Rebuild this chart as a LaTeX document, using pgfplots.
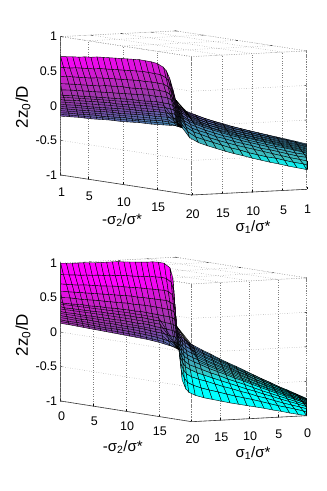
\documentclass[border=0pt]{standalone}
\usepackage{pgfplots}
\pgfplotsset{compat=1.18}
\usepackage{fontspec}
\setmainfont{Liberation Sans}
\pgfplotsset{
  colormap={cm}{rgb255(0cm)=(0,255,255); rgb255(1.5cm)=(0,255,255); rgb255(2.0cm)=(60,190,190); rgb255(3cm)=(60,150,180); rgb255(4.5cm)=(120,70,165); rgb255(5.5cm)=(155,55,170); rgb255(7cm)=(200,30,200); rgb255(8.5cm)=(255,0,255); rgb255(10cm)=(255,0,255)},
  my/.style={
    clip=false,
    colormap name=cm,
    point meta min=-1, point meta max=1,
    zmin=-1,zmax=1,
    ztick={-1,-0.5,0,0.5,1},
    grid=major,
    grid style={dotted,black!50,line width=0.5pt},
    axis line style={dotted,black!50,line width=0.5pt},
    tick style={black,line width=0.4pt},
    major tick length=2pt,
    tickpos=left,
    /pgf/number format/assume math mode=true,
    ticklabel style={font=\fontsize{12.5}{13}\selectfont},
    z tick label style={anchor=east},
  },
  sf/.style={surf,shader=faceted,faceted color=black,line width=0.4pt,mesh/cols=11,point meta=z},
  fl/.style={black,line width=0.4pt,no markers},
}
\begin{document}
\begin{tikzpicture}[x=1pt,y=1pt]
\path[use as bounding box] (0,0) rectangle (327,491);
\begin{axis}[my,at={(60.7pt,296pt)},anchor=south west,
  x={(6.895pt,-1.053pt)},y={(-6.053pt,-0.3pt)},z={(0pt,69.2pt)},
  xmin=1,xmax=20,ymin=1,ymax=20,
  xtick={1,5,10,15},ytick={1,5,10,15,20},
  x tick label style={anchor=center,yshift=-17.5pt,xshift=1pt},
  y tick label style={anchor=center,yshift=-19.5pt,xshift=1pt},
]
\addplot3[sf] coordinates {
(1,20,.71)(1,20,.56)(1,20,.43)(1,20,.32)(1,20,.24)(1,20,.16)(1,20,.09)(1,20,.02)(1,20,-.04)(1,20,-.10)(1,20,-.15)
(1,20,.71)(1,20,.55)(1,20,.42)(1,20,.32)(1,19.85,.23)(1,19.6,.15)(1,19.35,.08)(1,19.1,.01)(1,18.9,-.05)(1,18.7,-.11)(1,18.5,-.165)
(1,20,.71)(1,19.5,.55)(1,19,.42)(1,18.65,.31)(1,18.35,.22)(1,18.1,.14)(1,17.85,.07)(1,17.6,0)(1,17.4,-.07)(1,17.2,-.13)(1,17,-.18)
(1,19,.705)(1,18.5,.54)(1,18,.41)(1,17.65,.30)(1,17.35,.21)(1,17.1,.13)(1,16.85,.06)(1,16.6,-.015)(1,16.4,-.08)(1,16.2,-.14)(1,16,-.195)
(1,18,.70)(1,17.5,.54)(1,17,.40)(1,16.65,.29)(1,16.35,.20)(1,16.1,.12)(1,15.85,.05)(1,15.6,-.03)(1,15.4,-.09)(1,15.2,-.15)(1,15,-.21)
(1,17,.69)(1,16.5,.53)(1,16,.39)(1,15.65,.28)(1,15.35,.19)(1,15.1,.11)(1,14.85,.04)(1,14.6,-.04)(1,14.4,-.10)(1,14.2,-.16)(1,14,-.22)
(1,16,.69)(1,15.5,.52)(1,15,.38)(1,14.65,.27)(1,14.35,.18)(1,14.1,.10)(1,13.85,.03)(1,13.6,-.05)(1,13.4,-.11)(1,13.2,-.18)(1,13,-.23)
(1,15,.68)(1,14.5,.51)(1,14,.38)(1,13.65,.26)(1,13.35,.17)(1,13.1,.09)(1,12.85,.02)(1,12.6,-.06)(1,12.4,-.12)(1,12.2,-.19)(1,12,-.24)
(1,14,.68)(1,13.5,.51)(1,13,.37)(1,12.65,.26)(1,12.35,.16)(1,12.1,.08)(1,11.85,.01)(1,11.6,-.07)(1,11.4,-.13)(1,11.2,-.20)(1,11,-.255)
(1,13,.67)(1,12.5,.50)(1,12,.36)(1,11.65,.25)(1,11.35,.15)(1,11.1,.07)(1,10.85,-.01)(1,10.6,-.08)(1,10.4,-.15)(1,10.2,-.21)(1,10,-.27)
(1,12,.66)(1,11.5,.49)(1,11,.35)(1,10.65,.24)(1,10.35,.14)(1,10.1,.06)(1,9.85,-.02)(1,9.6,-.09)(1,9.4,-.16)(1,9.2,-.22)(1,9,-.28)
(1,11,.65)(1,10.5,.48)(1,10,.34)(1,9.65,.23)(1,9.35,.13)(1,9.1,.05)(1,8.85,-.03)(1,8.6,-.10)(1,8.4,-.17)(1,8.2,-.24)(1,8,-.29)
(1,10,.64)(1,9.5,.47)(1,9,.33)(1,8.65,.21)(1,8.35,.12)(1,8.1,.04)(1,7.85,-.04)(1,7.6,-.115)(1,7.4,-.18)(1,7.2,-.25)(1,7,-.30)
(1,9,.63)(1,8.5,.46)(1,8,.32)(1,7.65,.20)(1,7.35,.11)(1,7.1,.02)(1,6.85,-.05)(1,6.6,-.13)(1,6.4,-.19)(1,6.2,-.26)(1,6,-.315)
(1,8,.62)(1,7.5,.45)(1,7,.31)(1,6.65,.19)(1,6.35,.10)(1,6.1,.01)(1,5.85,-.06)(1,5.6,-.14)(1,5.4,-.20)(1,5.2,-.27)(1,5,-.33)
(1,7,.61)(1,6.5,.44)(1,6,.29)(1,5.65,.18)(1,5.35,.09)(1,5.1,0)(1,4.85,-.07)(1,4.6,-.15)(1,4.4,-.22)(1,4.2,-.28)(1,4,-.34)
(1,6,.59)(1,5.5,.42)(1,5,.28)(1,4.65,.17)(1,4.35,.07)(1,4.1,-.01)(1,3.85,-.09)(1,3.6,-.16)(1,3.4,-.23)(1,3.2,-.29)(1,3,-.35)
(1,5,.57)(1,4.5,.40)(1,4,.26)(1,3.65,.15)(1,3.35,.06)(1,3.1,-.03)(1,2.85,-.10)(1,2.6,-.18)(1,2.4,-.24)(1,2.2,-.31)(1,2,-.36)
(1,4,.54)(1,3.5,.38)(1,3,.24)(1,2.65,.13)(1,2.35,.04)(1,2.1,-.05)(1,1.85,-.12)(1,1.6,-.19)(1,1.4,-.26)(1,1.2,-.32)(1,1,-.37)
(1,3,.48)(1.05,2.64,.33)(1.1,2.34,.20)(1.14,2.1,.09)(1.17,1.9,.01)(1.19,1.72,-.07)(1.22,1.56,-.14)(1.24,1.4,-.20)(1.26,1.26,-.26)(1.28,1.12,-.32)(1.3,1,-.376)
(1,2.5,.42)(1.07,2.23,.28)(1.13,2,.16)(1.18,1.83,.06)(1.22,1.68,-.02)(1.26,1.54,-.09)(1.29,1.42,-.15)(1.32,1.3,-.22)(1.35,1.2,-.27)(1.38,1.09,-.33)(1.4,1,-.377)
(1,2,.32)(1.09,1.82,.19)(1.17,1.67,.09)(1.23,1.55,0)(1.28,1.45,-.06)(1.32,1.36,-.13)(1.36,1.28,-.18)(1.4,1.2,-.24)(1.44,1.13,-.29)(1.47,1.06,-.34)(1.5,1,-.378)
(1,1.5,.17)(1.12,1.41,.07)(1.21,1.33,-.01)(1.29,1.28,-.08)(1.36,1.22,-.13)(1.42,1.18,-.18)(1.47,1.14,-.23)(1.52,1.1,-.27)(1.57,1.06,-.31)(1.61,1.03,-.35)(1.65,1,-.38)
(1,1,0)(1.14,1,-.07)(1.26,1,-.13)(1.36,1,-.17)(1.44,1,-.21)(1.51,1,-.24)(1.58,1,-.27)(1.64,1,-.30)(1.7,1,-.33)(1.75,1,-.36)(1.8,1,-.38)
(1.5,1,-.21)(1.56,1,-.24)(1.62,1,-.27)(1.66,1,-.29)(1.69,1,-.30)(1.72,1,-.32)(1.75,1,-.33)(1.78,1,-.35)(1.8,1,-.36)(1.83,1,-.37)(1.85,1,-.38)
(1.9,1,-.385)(1.9,1,-.385)(1.9,1,-.385)(1.9,1,-.385)(1.9,1,-.385)(1.9,1,-.385)(1.9,1,-.385)(1.9,1,-.385)(1.9,1,-.385)(1.9,1,-.385)(1.9,1,-.385)
};
\addplot3[sf] coordinates {
(1,1,0)(1,1,0)(1,1,0)(1,1,0)(1,1,0)(1,1,0)(1,1,0)(1,1,0)(1,1,0)(1,1,0)(1,1,0)
(1.5,1,-.21)(1.43,1,-.18)(1.37,1,-.15)(1.32,1,-.12)(1.28,1,-.105)(1.24,1,-.09)(1.21,1,-.07)(1.18,1,-.06)(1.15,1,-.045)(1.12,1,-.03)(1.1,1,-.02)
(2,1,-.39)(1.86,1,-.33)(1.74,1,-.27)(1.64,1,-.23)(1.56,1,-.20)(1.49,1,-.17)(1.42,1,-.14)(1.36,1,-.11)(1.3,1,-.09)(1.25,1,-.06)(1.2,1,-.04)
(3,1,-.51)(2.75,1,-.43)(2.54,1,-.37)(2.37,1,-.32)(2.23,1,-.28)(2.1,1,-.24)(1.99,1,-.21)(1.88,1,-.17)(1.78,1,-.14)(1.68,1,-.115)(1.6,1,-.09)
(4.3,1,-.565)(3.92,1,-.49)(3.61,1,-.42)(3.36,1,-.37)(3.15,1,-.32)(2.96,1,-.28)(2.79,1,-.25)(2.62,1,-.21)(2.47,1,-.18)(2.33,1,-.15)(2.2,1,-.125)
(5.6,1,-.59)(5.1,1,-.51)(4.6,1,-.44)(4.25,1,-.39)(3.95,1,-.34)(3.7,1,-.30)(3.45,1,-.27)(3.2,1,-.23)(3,1,-.20)(2.8,1,-.17)(2.6,1,-.14)
(6.9,1,-.61)(6.4,1,-.53)(5.9,1,-.47)(5.55,1,-.41)(5.25,1,-.37)(5,1,-.33)(4.75,1,-.29)(4.5,1,-.26)(4.3,1,-.23)(4.1,1,-.20)(3.9,1,-.17)
(8.2,1,-.63)(7.7,1,-.55)(7.2,1,-.49)(6.85,1,-.44)(6.55,1,-.39)(6.3,1,-.35)(6.05,1,-.32)(5.8,1,-.29)(5.6,1,-.26)(5.4,1,-.23)(5.2,1,-.20)
(9.5,1,-.645)(9,1,-.57)(8.5,1,-.505)(8.15,1,-.45)(7.85,1,-.41)(7.6,1,-.37)(7.35,1,-.34)(7.1,1,-.305)(6.9,1,-.275)(6.7,1,-.245)(6.5,1,-.22)
(10.8,1,-.655)(10.3,1,-.58)(9.8,1,-.52)(9.45,1,-.47)(9.15,1,-.42)(8.9,1,-.39)(8.65,1,-.35)(8.4,1,-.32)(8.2,1,-.29)(8,1,-.26)(7.8,1,-.235)
(12.1,1,-.67)(11.6,1,-.60)(11.1,1,-.53)(10.75,1,-.48)(10.45,1,-.44)(10.2,1,-.40)(9.95,1,-.37)(9.7,1,-.34)(9.5,1,-.31)(9.3,1,-.28)(9.1,1,-.255)
(13.4,1,-.68)(12.9,1,-.61)(12.4,1,-.54)(12.05,1,-.49)(11.75,1,-.45)(11.5,1,-.42)(11.25,1,-.38)(11,1,-.35)(10.8,1,-.32)(10.6,1,-.29)(10.4,1,-.267)
(14.7,1,-.69)(14.2,1,-.62)(13.7,1,-.55)(13.35,1,-.51)(13.05,1,-.46)(12.8,1,-.43)(12.55,1,-.39)(12.3,1,-.36)(12.1,1,-.33)(11.9,1,-.305)(11.7,1,-.28)
(16,1,-.695)(15.5,1,-.62)(15,1,-.56)(14.65,1,-.51)(14.35,1,-.47)(14.1,1,-.44)(13.85,1,-.40)(13.6,1,-.37)(13.4,1,-.34)(13.2,1,-.315)(13,1,-.29)
(17.3,1,-.705)(16.8,1,-.63)(16.3,1,-.57)(15.95,1,-.52)(15.65,1,-.48)(15.4,1,-.45)(15.15,1,-.41)(14.9,1,-.38)(14.7,1,-.35)(14.5,1,-.325)(14.3,1,-.30)
(18.6,1,-.71)(18.1,1,-.64)(17.6,1,-.58)(17.25,1,-.53)(16.95,1,-.49)(16.7,1,-.45)(16.45,1,-.42)(16.2,1,-.39)(16,1,-.36)(15.8,1,-.33)(15.6,1,-.31)
(20,1,-.715)(19.5,1,-.64)(19,1,-.585)(18.65,1,-.54)(18.35,1,-.50)(18.1,1,-.46)(17.85,1,-.43)(17.6,1,-.40)(17.4,1,-.37)(17.2,1,-.34)(17,1,-.32)
(20,1,-.715)(20,1,-.65)(20,1,-.59)(19.95,1,-.54)(19.65,1,-.50)(19.4,1,-.47)(19.15,1,-.44)(18.9,1,-.41)(18.7,1,-.38)(18.5,1,-.35)(18.3,1,-.33)
(20,1,-.715)(20,1,-.65)(20,1,-.59)(20,1,-.55)(20,1,-.51)(20,1,-.48)(20,1,-.45)(20,1,-.42)(20,1,-.39)(20,1,-.37)(20,1,-.345)
};
\addplot3[fl] coordinates {(1,20,.125)(1,12.98,.055)(1,7.98,0)(1,2.98,-.065)(1.9,1,-.385)};
\addplot3[fl] coordinates {(1,20,.055)(1,12.72,-.02)(1,7.72,-.08)(1,2.72,-.14)(1.9,1,-.385)};
\addplot3[fl] coordinates {(1,20,-.01)(1,12.5,-.09)(1,7.5,-.15)(1,2.5,-.21)(1.9,1,-.385)};
\addplot3[fl] coordinates {(1,20,-.07)(1,12.3,-.155)(1,7.3,-.215)(1,2.3,-.275)(1.9,1,-.385)};
\addplot3[fl] coordinates {(1,20,-.125)(1,12.1,-.215)(1,7.1,-.275)(1,2.1,-.335)(1.9,1,-.385)};
\addplot3[fl] coordinates {(20,1,-.465)(17.98,1,-.445)(8.78,1,-.37)(3.58,1,-.285)(1,1,0)};
\addplot3[fl] coordinates {(20,1,-.435)(17.72,1,-.415)(8.52,1,-.335)(3.32,1,-.25)(1,1,0)};
\addplot3[fl] coordinates {(20,1,-.405)(17.5,1,-.385)(8.3,1,-.305)(3.1,1,-.215)(1,1,0)};
\addplot3[fl] coordinates {(20,1,-.38)(17.3,1,-.355)(8.1,1,-.275)(2.9,1,-.185)(1,1,0)};
\addplot3[fl] coordinates {(20,1,-.357)(17.1,1,-.33)(7.9,1,-.247)(2.7,1,-.155)(1,1,0)};
\addplot3[black!75,line width=0.6pt] coordinates {(1,20,1) (1,20,-1) (20,20,-1) (20,1,-1)};
\end{axis}
\begin{axis}[my,at={(60.7pt,69.3pt)},anchor=south west,
  x={(6.55pt,-1.035pt)},y={(-5.75pt,-0.3pt)},z={(0pt,68.9pt)},
  xmin=0,xmax=20,ymin=0,ymax=20,
  xtick={0,5,10,15},ytick={0,5,10,15,20},
  x tick label style={anchor=center,yshift=-15pt,xshift=1pt},
  y tick label style={anchor=center,yshift=-17.5pt,xshift=1pt},
]
\addplot3[sf] coordinates {
(0,20,1)(0,20,.84)(0,20,.71)(0,20,.61)(0,20,.52)(0,20,.44)(0,20,.37)(0,20,.30)(0,20,.24)(0,20,.18)(0,20,.127)
(0,20,1)(0,20,.84)(0,20,.70)(0,20,.59)(0,19.85,.50)(0,19.6,.42)(0,19.35,.35)(0,19.1,.28)(0,18.9,.22)(0,18.7,.15)(0,18.5,.10)
(0,20,1)(0,19.5,.83)(0,19,.69)(0,18.65,.58)(0,18.35,.49)(0,18.1,.40)(0,17.85,.33)(0,17.6,.26)(0,17.4,.19)(0,17.2,.13)(0,17,.07)
(0,19,.995)(0,18.5,.825)(0,18,.68)(0,17.65,.57)(0,17.35,.475)(0,17.1,.39)(0,16.85,.315)(0,16.6,.24)(0,16.4,.17)(0,16.2,.11)(0,16,.05)
(0,18,.99)(0,17.5,.82)(0,17,.67)(0,16.65,.56)(0,16.35,.46)(0,16.1,.38)(0,15.85,.30)(0,15.6,.22)(0,15.4,.16)(0,15.2,.09)(0,15,.03)
(0,17,.99)(0,16.5,.81)(0,16,.67)(0,15.65,.55)(0,15.35,.45)(0,15.1,.36)(0,14.85,.285)(0,14.6,.21)(0,14.4,.14)(0,14.2,.07)(0,14,.01)
(0,16,.99)(0,15.5,.81)(0,15,.66)(0,14.65,.54)(0,14.35,.44)(0,14.1,.35)(0,13.85,.27)(0,13.6,.19)(0,13.4,.12)(0,13.2,.05)(0,13,-.01)
(0,15,.985)(0,14.5,.80)(0,14,.65)(0,13.65,.53)(0,13.35,.43)(0,13.1,.34)(0,12.85,.26)(0,12.6,.175)(0,12.4,.10)(0,12.2,.03)(0,12,-.03)
(0,14,.98)(0,13.5,.80)(0,13,.64)(0,12.65,.52)(0,12.35,.415)(0,12.1,.32)(0,11.85,.24)(0,11.6,.16)(0,11.4,.09)(0,11.2,.015)(0,11,-.05)
(0,13,.98)(0,12.5,.79)(0,12,.635)(0,11.65,.51)(0,11.35,.405)(0,11.1,.31)(0,10.85,.23)(0,10.6,.14)(0,10.4,.07)(0,10.2,0)(0,10,-.07)
(0,12,.98)(0,11.5,.79)(0,11,.63)(0,10.65,.50)(0,10.35,.39)(0,10.1,.30)(0,9.85,.21)(0,9.6,.13)(0,9.4,.05)(0,9.2,-.02)(0,9,-.09)
(0,11,.98)(0,10.5,.78)(0,10,.62)(0,9.65,.49)(0,9.35,.38)(0,9.1,.28)(0,8.85,.20)(0,8.6,.11)(0,8.4,.03)(0,8.2,-.04)(0,8,-.11)
(0,10,.98)(0,9.5,.78)(0,9,.61)(0,8.65,.48)(0,8.35,.37)(0,8.1,.27)(0,7.85,.18)(0,7.6,.09)(0,7.4,.015)(0,7.2,-.06)(0,7,-.13)
(0,9,.97)(0,8.5,.77)(0,8,.60)(0,7.65,.47)(0,7.35,.35)(0,7.1,.25)(0,6.85,.16)(0,6.6,.07)(0,6.4,0)(0,6.2,-.08)(0,6,-.15)
(0,8,.965)(0,7.5,.76)(0,7,.59)(0,6.65,.45)(0,6.35,.34)(0,6.1,.24)(0,5.85,.15)(0,5.6,.06)(0,5.4,-.02)(0,5.2,-.10)(0,5,-.17)
(0,7,.96)(0,6.5,.75)(0,6,.58)(0,5.65,.44)(0,5.35,.325)(0,5.1,.22)(0,4.85,.13)(0,4.6,.04)(0,4.4,-.045)(0,4.2,-.125)(0,4,-.195)
(0,6,.955)(0,5.5,.74)(0,5,.565)(0,4.65,.425)(0,4.35,.31)(0,4.1,.20)(0,3.85,.105)(0,3.6,.01)(0,3.4,-.07)(0,3.2,-.15)(0,3,-.22)
(0,5,.95)(0,4.5,.74)(0,4,.555)(0,3.65,.41)(0,3.35,.29)(0,3.1,.18)(0,2.85,.09)(0,2.6,-.01)(0,2.4,-.09)(0,2.2,-.18)(0,2,-.25)
(0,4,.95)(0,3.5,.73)(0,3,.54)(0,2.65,.395)(0,2.35,.27)(0,2.1,.16)(0,1.85,.06)(0,1.6,-.035)(0,1.4,-.12)(0,1.2,-.21)(0,1,-.28)
(0,3,.94)(0,2.5,.72)(0,2,.53)(0,1.65,.38)(0,1.35,.25)(0,1.1,.14)(0,.85,.04)(0,.6,-.06)(0,.4,-.15)(0,.2,-.235)(0,0,-.31)
(0,2,.92)(.03,1.64,.70)(.05,1.34,.51)(.07,1.1,.36)(.08,.9,.24)(.1,.72,.13)(.11,.56,.03)(.12,.4,-.07)(.13,.26,-.15)(.14,.12,-.24)(.15,0,-.315)
(0,1,.85)(.05,.82,.64)(.09,.67,.46)(.13,.55,.32)(.15,.45,.21)(.18,.36,.10)(.2,.28,.01)(.22,.2,-.09)(.24,.13,-.17)(.26,.06,-.25)(.28,0,-.32)
(0,.5,.70)(.07,.41,.52)(.13,.34,.36)(.17,.28,.24)(.21,.23,.14)(.24,.18,.04)(.27,.14,-.04)(.3,.1,-.12)(.33,.07,-.19)(.36,.03,-.26)(.38,0,-.325)
(0,.25,.41)(.08,.21,.28)(.15,.17,.17)(.2,.14,.08)(.24,.11,0)(.28,.09,-.06)(.32,.07,-.12)(.35,.05,-.18)(.38,.03,-.23)(.41,.02,-.29)(.44,0,-.33)
(0,0,.064)(.09,0,-.01)(.17,0,-.07)(.23,0,-.12)(.28,0,-.16)(.32,0,-.19)(.36,0,-.22)(.4,0,-.26)(.44,0,-.28)(.47,0,-.31)(.5,0,-.335)
(.55,0,-.34)(.55,0,-.34)(.55,0,-.34)(.55,0,-.34)(.55,0,-.34)(.55,0,-.34)(.55,0,-.34)(.55,0,-.34)(.55,0,-.34)(.55,0,-.34)(.55,0,-.34)
};
\addplot3[sf] coordinates {
(0,0,.016)(0,0,.016)(0,0,.016)(0,0,.016)(0,0,.016)(0,0,.016)(0,0,.016)(0,0,.016)(0,0,.016)(0,0,.016)(0,0,.016)
(.5,0,-.34)(.43,0,-.28)(.37,0,-.23)(.32,0,-.19)(.28,0,-.15)(.24,0,-.12)(.21,0,-.10)(.18,0,-.07)(.15,0,-.04)(.12,0,-.02)(.1,0,0)
(1,0,-.77)(.87,0,-.64)(.77,0,-.53)(.69,0,-.44)(.62,0,-.37)(.55,0,-.30)(.5,0,-.24)(.44,0,-.19)(.39,0,-.135)(.34,0,-.08)(.3,0,-.04)
(1.5,0,-.88)(1.34,0,-.74)(1.2,0,-.62)(1.1,0,-.52)(1,0,-.45)(.92,0,-.37)(.85,0,-.31)(.78,0,-.25)(.72,0,-.19)(.65,0,-.14)(.6,0,-.09)
(2,0,-.93)(1.8,0,-.79)(1.64,0,-.67)(1.5,0,-.57)(1.4,0,-.49)(1.3,0,-.42)(1.2,0,-.35)(1.12,0,-.29)(1.04,0,-.23)(.97,0,-.18)(.9,0,-.13)
(3,0,-.96)(2.7,0,-.82)(2.44,0,-.70)(2.24,0,-.60)(2.07,0,-.53)(1.91,0,-.45)(1.78,0,-.39)(1.64,0,-.33)(1.52,0,-.27)(1.4,0,-.22)(1.3,0,-.17)
(4.3,0,-.975)(3.89,0,-.84)(3.54,0,-.72)(3.27,0,-.63)(3.03,0,-.55)(2.83,0,-.48)(2.64,0,-.42)(2.46,0,-.36)(2.3,0,-.305)(2.14,0,-.25)(2,0,-.205)
(5.6,0,-.98)(5.1,0,-.85)(4.6,0,-.73)(4.25,0,-.645)(3.95,0,-.57)(3.7,0,-.50)(3.45,0,-.44)(3.2,0,-.38)(3,0,-.33)(2.8,0,-.28)(2.6,0,-.235)
(7,0,-.985)(6.5,0,-.86)(6,0,-.75)(5.65,0,-.67)(5.35,0,-.60)(5.1,0,-.54)(4.85,0,-.48)(4.6,0,-.425)(4.4,0,-.375)(4.2,0,-.33)(4,0,-.285)
(8.3,0,-.99)(7.8,0,-.87)(7.3,0,-.77)(6.95,0,-.69)(6.65,0,-.62)(6.4,0,-.565)(6.15,0,-.51)(5.9,0,-.46)(5.7,0,-.41)(5.5,0,-.37)(5.3,0,-.325)
(9.6,0,-.99)(9.1,0,-.88)(8.6,0,-.78)(8.25,0,-.71)(7.95,0,-.65)(7.7,0,-.59)(7.45,0,-.54)(7.2,0,-.49)(7,0,-.45)(6.8,0,-.405)(6.6,0,-.37)
(10.9,0,-.99)(10.4,0,-.885)(9.9,0,-.80)(9.55,0,-.73)(9.25,0,-.67)(9,0,-.62)(8.75,0,-.57)(8.5,0,-.52)(8.3,0,-.48)(8.1,0,-.44)(7.9,0,-.41)
(12.2,0,-.99)(11.7,0,-.89)(11.2,0,-.81)(10.85,0,-.75)(10.55,0,-.69)(10.3,0,-.64)(10.05,0,-.60)(9.8,0,-.555)(9.6,0,-.52)(9.4,0,-.48)(9.2,0,-.445)
(13.5,0,-.99)(13,0,-.90)(12.5,0,-.83)(12.15,0,-.765)(11.85,0,-.715)(11.6,0,-.67)(11.35,0,-.63)(11.1,0,-.59)(10.9,0,-.55)(10.7,0,-.52)(10.5,0,-.485)
(14.8,0,-.995)(14.3,0,-.91)(13.8,0,-.84)(13.45,0,-.785)(13.15,0,-.74)(12.9,0,-.695)(12.65,0,-.66)(12.4,0,-.62)(12.2,0,-.59)(12,0,-.555)(11.8,0,-.525)
(16.1,0,-.995)(15.6,0,-.92)(15.1,0,-.855)(14.75,0,-.80)(14.45,0,-.76)(14.2,0,-.72)(13.95,0,-.685)(13.7,0,-.65)(13.5,0,-.62)(13.3,0,-.59)(13.1,0,-.565)
(17.4,0,-1)(16.9,0,-.925)(16.4,0,-.87)(16.05,0,-.82)(15.75,0,-.78)(15.5,0,-.745)(15.25,0,-.71)(15,0,-.68)(14.8,0,-.655)(14.6,0,-.625)(14.4,0,-.60)
(18.7,0,-1)(18.2,0,-.93)(17.7,0,-.88)(17.35,0,-.835)(17.05,0,-.80)(16.8,0,-.77)(16.55,0,-.74)(16.3,0,-.71)(16.1,0,-.685)(15.9,0,-.66)(15.7,0,-.64)
(20,0,-1)(19.5,0,-.94)(19,0,-.89)(18.65,0,-.85)(18.35,0,-.82)(18.1,0,-.79)(17.85,0,-.76)(17.6,0,-.74)(17.4,0,-.71)(17.2,0,-.69)(17,0,-.67)
(20,0,-1)(20,0,-.95)(20,0,-.90)(19.95,0,-.87)(19.65,0,-.84)(19.4,0,-.81)(19.15,0,-.79)(18.9,0,-.76)(18.7,0,-.74)(18.5,0,-.72)(18.3,0,-.705)
(20,0,-1)(20,0,-.955)(20,0,-.92)(20,0,-.89)(20,0,-.86)(20,0,-.84)(20,0,-.82)(20,0,-.80)(20,0,-.78)(20,0,-.765)(20,0,-.75)
};
\addplot3[fl] coordinates {(0,20,.405)(0,12.98,.30)(0,7.98,.225)(0,2.98,.135)(.55,0,-.34)};
\addplot3[fl] coordinates {(0,20,.335)(0,12.72,.22)(0,7.72,.135)(0,2.72,.04)(.55,0,-.34)};
\addplot3[fl] coordinates {(0,20,.27)(0,12.5,.14)(0,7.5,.05)(0,2.5,-.05)(.55,0,-.34)};
\addplot3[fl] coordinates {(0,20,.21)(0,12.3,.065)(0,7.3,-.02)(0,2.3,-.135)(.55,0,-.34)};
\addplot3[fl] coordinates {(0,20,.153)(0,12.1,0)(0,7.1,-.095)(0,2.1,-.215)(.55,0,-.34)};
\addplot3[fl] coordinates {(20,0,-.83)(17.98,0,-.775)(8.88,0,-.595)(3.58,0,-.47)(0,0,.016)};
\addplot3[fl] coordinates {(20,0,-.81)(17.72,0,-.75)(8.62,0,-.545)(3.32,0,-.41)(0,0,.016)};
\addplot3[fl] coordinates {(20,0,-.79)(17.5,0,-.725)(8.4,0,-.50)(3.1,0,-.355)(0,0,.016)};
\addplot3[fl] coordinates {(20,0,-.772)(17.3,0,-.70)(8.2,0,-.46)(2.9,0,-.305)(0,0,.016)};
\addplot3[fl] coordinates {(20,0,-.757)(17.1,0,-.68)(8,0,-.425)(2.7,0,-.26)(0,0,.016)};
\addplot3[black!75,line width=0.6pt] coordinates {(0,20,1) (0,20,-1) (20,20,-1) (20,0,-1)};
\end{axis}
\newcommand{\lab}{\fontsize{15}{16}\selectfont}
\node[rotate=90,font=\fontsize{17}{18}\selectfont] at (23,384) {2z\textsubscript{0}/D};
\node[font=\lab] at (122,271) {-σ\textsubscript{2}/σ*};
\node[font=\lab] at (253,264) {σ\textsubscript{1}/σ*};
\node[rotate=90,font=\fontsize{17}{18}\selectfont] at (23,156) {2z\textsubscript{0}/D};
\node[font=\lab] at (122.7,44) {-σ\textsubscript{2}/σ*};
\node[font=\lab] at (253,38) {σ\textsubscript{1}/σ*};
\end{tikzpicture}
\end{document}
